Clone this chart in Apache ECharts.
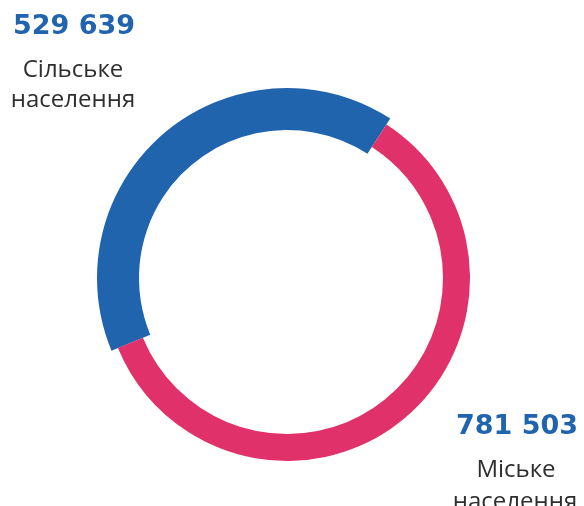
<!DOCTYPE html>
<html>
<head>
<meta charset="utf-8">
<script src="https://cdn.jsdelivr.net/npm/echarts@6/dist/echarts.min.js"></script>
<style>
  html, body { margin: 0; padding: 0; background: #fff; }
  #chart { width: 584px; height: 506px; }
</style>
</head>
<body>
<div id="chart"></div>
<script>
const categories = ['Сільське населення', 'Міське населення'];
const labelLines = [['Сільське', 'населення'], ['Міське', 'населення']];
const values = [529639, 781503];
const colors = ['#2164ae', '#e1316b'];

const fmt = v => String(v).replace(/\B(?=(\d{3})+(?!\d))/g, ' ');

const chart = echarts.init(document.getElementById('chart'));

// each ring is its own series so the two arcs can have different thickness
const ring = (idx, radius) => ({
  type: 'pie',
  center: [287, 278],
  radius: radius,
  startAngle: 202.5,
  silent: true,
  label: { show: false },
  labelLine: { show: false },
  data: values.map((v, i) => ({
    name: categories[i],
    value: v,
    itemStyle: { color: i === idx ? colors[i] : 'transparent' }
  }))
});

const numFont = 'bold 27px "DejaVu Sans"';
const txtFont = '400 24px "Open Sans"';

chart.setOption({
  animation: false,
  series: [ring(0, [148, 190]), ring(1, [156, 183])],
  graphic: [
    { type: 'text', style: { text: fmt(values[0]), x: 74, y: 27, align: 'center', verticalAlign: 'middle', font: numFont, fill: colors[0] } },
    { type: 'text', style: { text: labelLines[0][0], x: 73, y: 70, align: 'center', verticalAlign: 'middle', font: txtFont, fill: '#2e2e2e' } },
    { type: 'text', style: { text: labelLines[0][1], x: 73, y: 100, align: 'center', verticalAlign: 'middle', font: txtFont, fill: '#2e2e2e' } },
    { type: 'text', style: { text: fmt(values[1]), x: 517, y: 427, align: 'center', verticalAlign: 'middle', font: numFont, fill: colors[0] } },
    { type: 'text', style: { text: labelLines[1][0], x: 516, y: 470, align: 'center', verticalAlign: 'middle', font: txtFont, fill: '#2e2e2e' } },
    { type: 'text', style: { text: labelLines[1][1], x: 515, y: 502, align: 'center', verticalAlign: 'middle', font: txtFont, fill: '#2e2e2e' } }
  ]
});
</script>
</body>
</html>
